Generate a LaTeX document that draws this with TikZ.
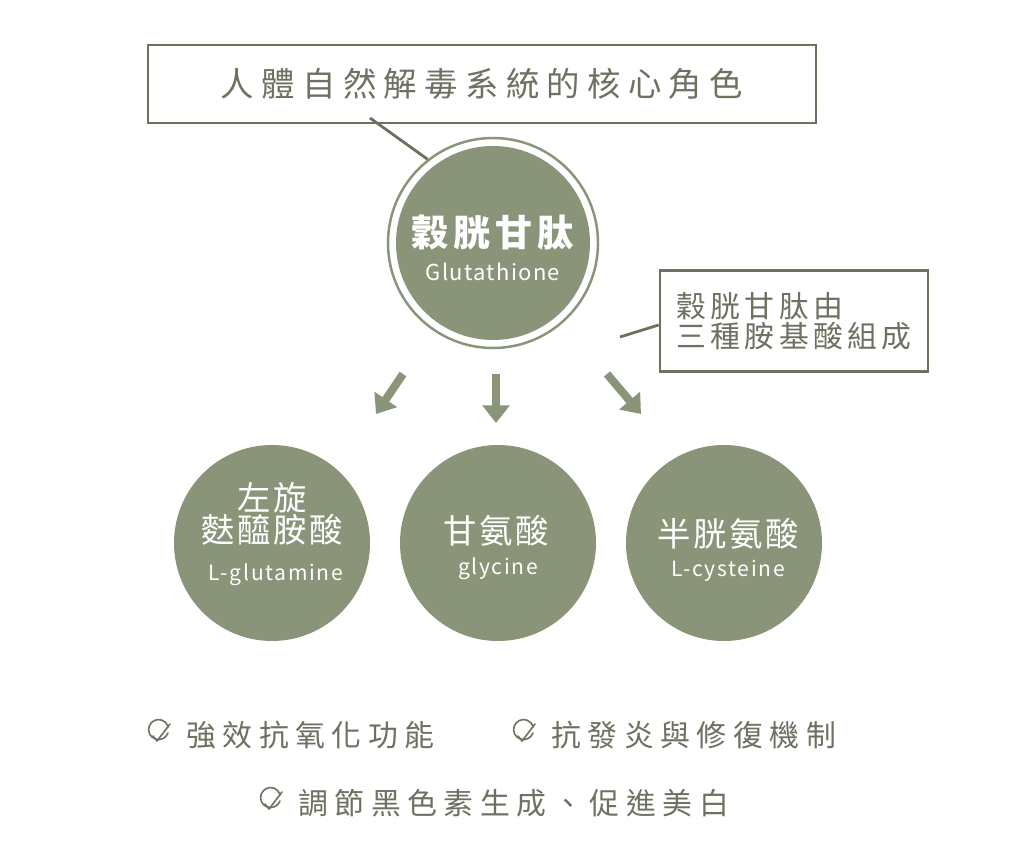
\documentclass[tikz,border=0pt]{standalone}
\usepackage{fontspec}
\setmainfont{Noto Sans CJK TC}
\usetikzlibrary{arrows.meta}
\definecolor{olive}{HTML}{8A9478}
\definecolor{ink}{HTML}{6C7160}
\tikzset{
  ball/.style={circle,fill=olive,minimum size=196*0.02cm,inner sep=0pt},
  frame/.style={draw=ink,line width=1.6pt},
  down/.style={olive,line width=4.6pt,-{Triangle[width=15pt,length=10pt]}},
  tick/.style={ink,line width=0.9pt,line cap=round,line join=round},
}
\newcommand{\cktick}[1]{%
  \draw[tick] ($#1+(10,-3)$) arc[start angle=20,end angle=345,radius=10];
  \draw[tick] ($#1+(-5,0)$) -- ($#1+(-1,5)$) -- ($#1+(12,-12)$);}
\usetikzlibrary{calc}
\begin{document}
\begin{tikzpicture}[x=0.02cm,y=-0.02cm]
  \useasboundingbox[fill=white] (0,0) rectangle (1024,864);

  \node[frame,minimum width=668*0.02cm,minimum height=78*0.02cm] (topbox) at (482,84)
    {\fontsize{19}{22}\selectfont\addfontfeature{LetterSpace=22}\color{ink}人體自然解毒系統的核心角色};

  \node[circle,draw=olive,line width=1.4pt,minimum size=210*0.02cm] (ring) at (493,243) {};
  \node[ball,minimum size=194*0.02cm] (main) at (493,243) {};
  \node[white,font=\bfseries] (mainzh) at (493,233)
    {\fontsize{21}{24}\selectfont\addfontfeature{LetterSpace=14}穀胱甘肽};
  \node[white] (mainen) at (493,272)
    {\fontsize{12.5}{14}\selectfont\addfontfeature{LetterSpace=6}Glutathione};

  \coordinate (topend) at (370,118);
  \draw[ink,line width=1.6pt] (topend) -- (ring.128);

  \node[frame,minimum width=268*0.02cm,minimum height=101*0.02cm,align=left,text=ink,
    inner sep=14*0.02cm] (sidebox) at (794,321)
    {\fontsize{17}{25}\selectfont\addfontfeature{LetterSpace=14}穀胱甘肽由\\
     \fontsize{17}{25}\selectfont\addfontfeature{LetterSpace=14}三種胺基酸組成};
  \coordinate (sideend) at (620,337);
  \draw[ink,line width=1.6pt] (sideend) -- (sidebox.west |- 0,325);

  \coordinate (a1) at (403,374); \coordinate (b1) at (376,414);
  \coordinate (a2) at (496,374); \coordinate (b2) at (496,423);
  \coordinate (a3) at (607,374); \coordinate (b3) at (641,414);
  \draw[down] (a1) -- (b1);
  \draw[down] (a2) -- (b2);
  \draw[down] (a3) -- (b3);

  \node[ball] (glu) at (272,543) {};
  \node[ball] (gly) at (498,543) {};
  \node[ball] (cys) at (724,543) {};

  \node[white,align=center] (gluzh) at (272,514)
    {\fontsize{19}{24}\selectfont\addfontfeature{LetterSpace=8}左旋\\
     \fontsize{19}{24}\selectfont\addfontfeature{LetterSpace=8}麩醯胺酸};
  \node[white] (gluen) at (276,575) {\fontsize{12}{14}\selectfont\addfontfeature{LetterSpace=8}L-glutamine};
  \node[white] (glyzh) at (496,531) {\fontsize{19}{22}\selectfont\addfontfeature{LetterSpace=8}甘氨酸};
  \node[white] (glyen) at (498,569) {\fontsize{12}{14}\selectfont\addfontfeature{LetterSpace=8}glycine};
  \node[white] (cyszh) at (728,534) {\fontsize{19}{22}\selectfont\addfontfeature{LetterSpace=8}半胱氨酸};
  \node[white] (cysen) at (728,571) {\fontsize{12}{14}\selectfont\addfontfeature{LetterSpace=8}L-cysteine};

  % benefits
  \cktick{(158,736)}
  \node[anchor=west,text=ink] (ben1) at (180,735)
    {\fontsize{17}{20}\selectfont\addfontfeature{LetterSpace=22}強效抗氧化功能};
  \cktick{(523,736)}
  \node[anchor=west,text=ink] (ben2) at (545,735)
    {\fontsize{17}{20}\selectfont\addfontfeature{LetterSpace=22}抗發炎與修復機制};
  \cktick{(270,804)}
  \node[anchor=west,text=ink] (ben3) at (292,803)
    {\fontsize{17}{20}\selectfont\addfontfeature{LetterSpace=22}調節黑色素生成、促進美白};
\end{tikzpicture}
\end{document}
